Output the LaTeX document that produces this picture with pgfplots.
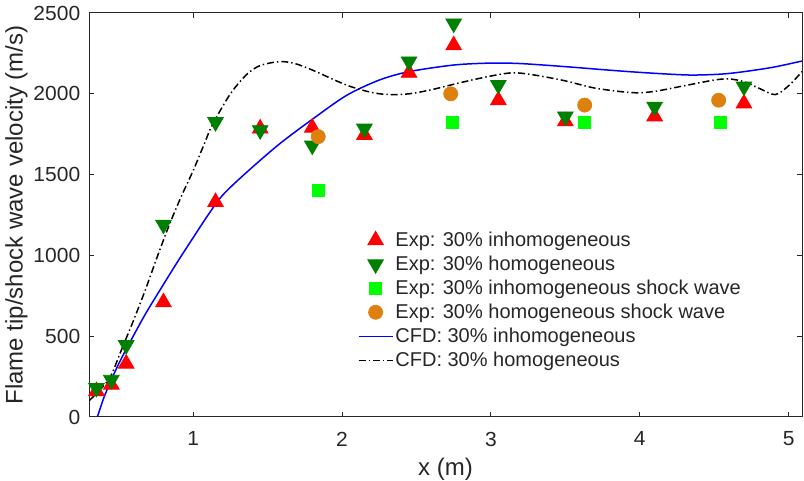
\documentclass[border=0pt]{standalone}
\usepackage{fontspec}
\setmainfont{Liberation Sans}
\newfontfamily\tickfont[FakeStretch=1.03]{Liberation Sans}
\usepackage{pgfplots}
\pgfplotsset{compat=1.18}
\definecolor{axgray}{gray}{0.15}
\definecolor{mred}{rgb}{1,0,0}
\definecolor{mdgreen}{rgb}{0,0.5,0}
\definecolor{mlime}{rgb}{0,1,0}
\definecolor{morange}{rgb}{0.87,0.5,0.05}
\definecolor{mblue}{rgb}{0,0,1}
\begin{document}
\begin{tikzpicture}
\begin{axis}[
  name=ax,
  scale only axis,
  width=356.5pt, height=202pt,
  xmin=0.3, xmax=5.09, ymin=0, ymax=2500,
  xtick={1,2,3,4,5}, ytick={0,500,1000,1500,2000,2500},
  tick align=inside,
  major tick length=2.5pt,
  axis line style={axgray, line width=0.5pt},
  every tick/.style={axgray, line width=0.5pt},
  tick label style={font=\tickfont\fontsize{10.2}{12}\selectfont, text=axgray, inner sep=0pt},
  xticklabel style={anchor=north, yshift=-7.2pt},
  yticklabel style={anchor=east, xshift=-4.2pt},
  /pgf/number format/assume math mode=true,
  scaled y ticks=false,
  yticklabel style={/pgf/number format/1000 sep={}},
  xlabel={x (m)},
  ylabel={Flame tip/shock wave velocity (m/s)},
  label style={font=\fontsize{12}{14}\selectfont, text=axgray, inner sep=0pt},
  xlabel style={at={(axis description cs:0.5,-0.1436)}, anchor=base},
  ylabel style={at={(axis description cs:-0.0931,0.5)}, anchor=base, rotate=0},
  legend style={at={(0.368,0.478)}, anchor=north west, draw=none, fill=none,
    font=\fontsize{10}{12}\selectfont, text=axgray,
    nodes={inner sep=1pt, text height=7.9pt, text depth=2.1pt},
    row sep=0pt},
  legend cell align=left,
]
% Exp: 30% inhomogeneous
\addplot[only marks, mark=triangle*, mark size=4.5pt, color=mred, mark options={fill=mred, draw=mred}]
  coordinates {(0.35,160) (0.45,200) (0.55,330) (0.80,710) (1.15,1330) (1.45,1785) (1.80,1790)
  (2.15,1745) (2.45,2130) (2.75,2300) (3.05,1960) (3.50,1830) (4.10,1860) (4.70,1940)};
\addlegendentry{Exp: 30\% inhomogeneous}
% Exp: 30% homogeneous
\addplot[only marks, mark=triangle*, mark size=4.5pt, color=mdgreen, mark options={fill=mdgreen, draw=mdgreen, rotate=180}]
  coordinates {(0.35,180) (0.45,230) (0.55,445) (0.80,1190) (1.15,1825) (1.45,1775) (1.80,1680)
  (2.15,1785) (2.45,2200) (2.75,2435) (3.05,2055) (3.50,1860) (4.10,1920) (4.70,2045)};
\addlegendentry{Exp: 30\% homogeneous}
% Exp: 30% inhomogeneous shock wave
\addplot[only marks, mark=square*, mark size=3pt, color=mlime, mark options={fill=mlime, draw=mlime}]
  coordinates {(1.84,1400) (2.74,1820) (3.63,1820) (4.54,1820)};
\addlegendentry{Exp: 30\% inhomogeneous shock wave}
% Exp: 30% homogeneous shock wave
\addplot[only marks, mark=*, mark size=3.5pt, color=morange, mark options={fill=morange, draw=morange}]
  coordinates {(1.84,1735) (2.73,2000) (3.63,1930) (4.53,1960)};
\addlegendentry{Exp: 30\% homogeneous shock wave}
% CFD: 30% inhomogeneous
\addplot[mblue, line width=0.75pt, no marks, smooth] coordinates {
 (0.356,0) (0.40,120) (0.45,230) (0.50,330) (0.55,420) (0.60,505) (0.65,590) (0.70,670)
 (0.80,820) (0.90,968) (1.00,1110) (1.10,1250) (1.20,1375) (1.36,1515) (1.58,1690)
 (1.80,1842) (2.03,1990) (2.25,2085) (2.45,2137) (2.75,2178) (3.00,2190) (3.20,2187)
 (3.50,2168) (3.73,2151) (3.93,2137) (4.15,2124) (4.35,2116) (4.55,2122) (4.70,2137)
 (4.90,2165) (5.09,2203)};
\addlegendentry{CFD: 30\% inhomogeneous}
% CFD: 30% homogeneous
\addplot[black, line width=0.75pt, no marks, smooth, dash pattern=on 3.5pt off 1.5pt on 0.7pt off 1.5pt] coordinates {
 (0.30,100) (0.35,145) (0.40,195) (0.45,260) (0.52,420) (0.60,600) (0.68,790) (0.76,995)
 (0.84,1190) (0.92,1365) (1.00,1525) (1.07,1680) (1.13,1810) (1.25,2000) (1.36,2120)
 (1.45,2175) (1.58,2199) (1.68,2188) (1.80,2147) (2.03,2054) (2.20,2008) (2.32,1995)
 (2.45,2000) (2.60,2025) (2.80,2070) (3.00,2110) (3.15,2130) (3.30,2115) (3.50,2080)
 (3.70,2035) (3.95,2007) (4.10,2015) (4.30,2050) (4.50,2085) (4.60,2092) (4.70,2075)
 (4.80,2035) (4.91,1995) (5.00,2050) (5.09,2137)};
\addlegendentry{CFD: 30\% homogeneous}
\end{axis}
\pgfresetboundingbox
\path[use as bounding box] ([shift={(-44.5pt,-32pt)}]ax.south west) rectangle ([shift={(1pt,6.5pt)}]ax.north east);
\end{tikzpicture}
\end{document}
